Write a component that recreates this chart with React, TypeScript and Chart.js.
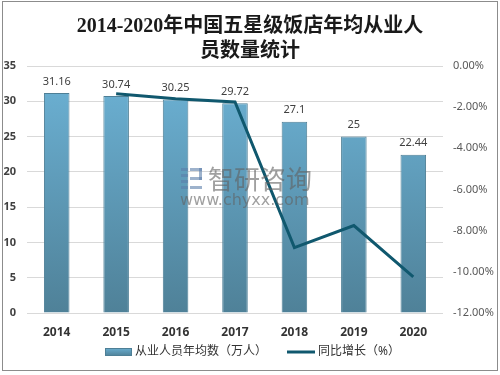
import React, { useEffect, useRef } from "react";
import { Chart, registerables } from "chart.js";

Chart.register(...registerables);

const categories = ["2014", "2015", "2016", "2017", "2018", "2019", "2020"];
const employees = [31.16, 30.74, 30.25, 29.72, 27.1, 25, 22.44];
const growth = [null, -1.35, -1.59, -1.75, -8.82, -7.75, -10.24];
const titleLines = ["2014-2020年中国五星级饭店年均从业人", "员数量统计"];
const barLabel = "从业人员年均数（万人）";
const lineLabel = "同比增长（%）";

const FONT = "'Noto Sans', 'Noto Sans CJK SC', sans-serif";
const LINE_COLOR = "#10586e";

const decorPlugin = {
  id: "decor",
  beforeDraw(chart: any) {
    const ctx = chart.ctx;
    ctx.save();
    ctx.fillStyle = "#ffffff";
    ctx.fillRect(0, 0, chart.width, chart.height);
    ctx.restore();
  },
  afterDatasetsDraw(chart: any) {
    const ctx = chart.ctx;
    ctx.save();
    // watermark
    ctx.globalAlpha = 0.6;
    ctx.fillStyle = "#5b7faa";
    ctx.fillRect(181, 168, 7, 3);
    ctx.fillRect(181, 174, 7, 3);
    ctx.fillRect(181, 180, 7, 3);
    ctx.fillRect(181, 186, 7, 3);
    ctx.fillRect(190, 168, 12, 3);
    ctx.fillRect(199, 168, 3, 12);
    ctx.fillRect(190, 177, 12, 3);
    ctx.fillRect(190, 186, 12, 3);
    ctx.fillStyle = "#606060";
    ctx.font = "26px 'Noto Sans CJK SC', sans-serif";
    ctx.textBaseline = "middle";
    ctx.textAlign = "left";
    ctx.fillText("智研咨询", 208, 179);
    ctx.font = "16px 'DejaVu Sans', sans-serif";
    ctx.fillText("www.chyxx.com", 180, 201);
    ctx.globalAlpha = 1;

    // bar value labels
    const meta = chart.getDatasetMeta(0);
    ctx.fillStyle = "#404040";
    ctx.font = `11px ${FONT}`;
    ctx.textAlign = "center";
    ctx.textBaseline = "bottom";
    meta.data.forEach((el: any, i: number) => {
      ctx.fillText(String(employees[i]), el.x, el.y - 6);
    });
    ctx.restore();
  },
  afterDraw(chart: any) {
    const ctx = chart.ctx;
    ctx.save();
    // title
    ctx.fillStyle = "#1a1a1a";
    ctx.font = "bold 20px 'Liberation Serif', 'Noto Sans CJK SC', serif";
    ctx.textAlign = "center";
    ctx.textBaseline = "middle";
    ctx.fillText(titleLines[0], 250, 27);
    ctx.fillText(titleLines[1], 250, 52);

    // legend
    const g = ctx.createLinearGradient(0, 348, 0, 356);
    g.addColorStop(0, "#6aaed0");
    g.addColorStop(1, "#4f8198");
    ctx.fillStyle = g;
    ctx.fillRect(105, 348, 26, 8);
    ctx.strokeStyle = "#4e7f96";
    ctx.lineWidth = 1;
    ctx.strokeRect(105.5, 348.5, 26, 7);
    ctx.fillStyle = "#333333";
    ctx.font = `12px ${FONT}`;
    ctx.textAlign = "left";
    ctx.textBaseline = "middle";
    ctx.fillText(barLabel, 135, 352);
    ctx.strokeStyle = LINE_COLOR;
    ctx.lineWidth = 3;
    ctx.beginPath();
    ctx.moveTo(287, 352);
    ctx.lineTo(315, 352);
    ctx.stroke();
    ctx.fillText(lineLabel, 318, 352);

    // outer border
    ctx.strokeStyle = "#8c8c8c";
    ctx.lineWidth = 1;
    ctx.strokeRect(2.5, 1.5, 495, 369);
    ctx.restore();
  },
};

export default function App() {
  const ref = useRef<HTMLCanvasElement>(null);
  useEffect(() => {
    document.body.style.margin = "0";
    const canvas = ref.current;
    if (!canvas) return;
    const chart = new Chart(canvas, {
      type: "bar",
      data: {
        labels: categories,
        datasets: [
          {
            type: "bar",
            label: barLabel,
            data: employees,
            yAxisID: "y",
            backgroundColor: (c: any) => {
              const area = c.chart.chartArea;
              if (!area) return "#5e9cba";
              const gr = c.chart.ctx.createLinearGradient(0, area.top + 25, 0, area.bottom);
              gr.addColorStop(0, "#6aaed0");
              gr.addColorStop(1, "#4f8198");
              return gr;
            },
            borderColor: "#4e7f96",
            borderWidth: 1,
            categoryPercentage: 1,
            barPercentage: 0.43,
            order: 2,
          } as any,
          {
            type: "line",
            label: lineLabel,
            data: growth,
            yAxisID: "y1",
            borderColor: LINE_COLOR,
            borderWidth: 3,
            pointRadius: 0,
            tension: 0,
            order: 1,
          } as any,
        ],
      },
      options: {
        responsive: false,
        animation: false,
        events: [],
        layout: { padding: { top: 66, bottom: 32, left: 0, right: 0 } },
        plugins: {
          legend: { display: false },
          title: { display: false },
          tooltip: { enabled: false },
        },
        scales: {
          x: {
            grid: { display: false, drawTicks: false },
            border: { display: false },
            ticks: {
              padding: 12,
              color: "#333333",
              font: { family: FONT, size: 12, weight: "bold" },
            },
            afterFit: (s: any) => {
              s.height = 30;
            },
          },
          y: {
            position: "left",
            min: 0,
            max: 35,
            ticks: {
              stepSize: 5,
              padding: 11,
              color: "#404040",
              font: { family: FONT, size: 11, weight: "bold" },
            },
            grid: { color: "#d9d9d9", drawTicks: false },
            border: { display: false },
            afterFit: (s: any) => {
              s.width = 27;
            },
          },
          y1: {
            position: "right",
            min: -12,
            max: 0,
            ticks: {
              stepSize: 2,
              padding: 10,
              color: "#595959",
              font: { family: FONT, size: 11 },
              callback: (v: any) => Number(v).toFixed(2) + "%",
            },
            grid: { display: false, drawTicks: false },
            border: { display: false },
            afterFit: (s: any) => {
              s.width = 57;
            },
          },
        },
      } as any,
      plugins: [decorPlugin],
    });
    return () => chart.destroy();
  }, []);
  return <canvas ref={ref} width={500} height={375} style={{ display: "block" }} />;
}
